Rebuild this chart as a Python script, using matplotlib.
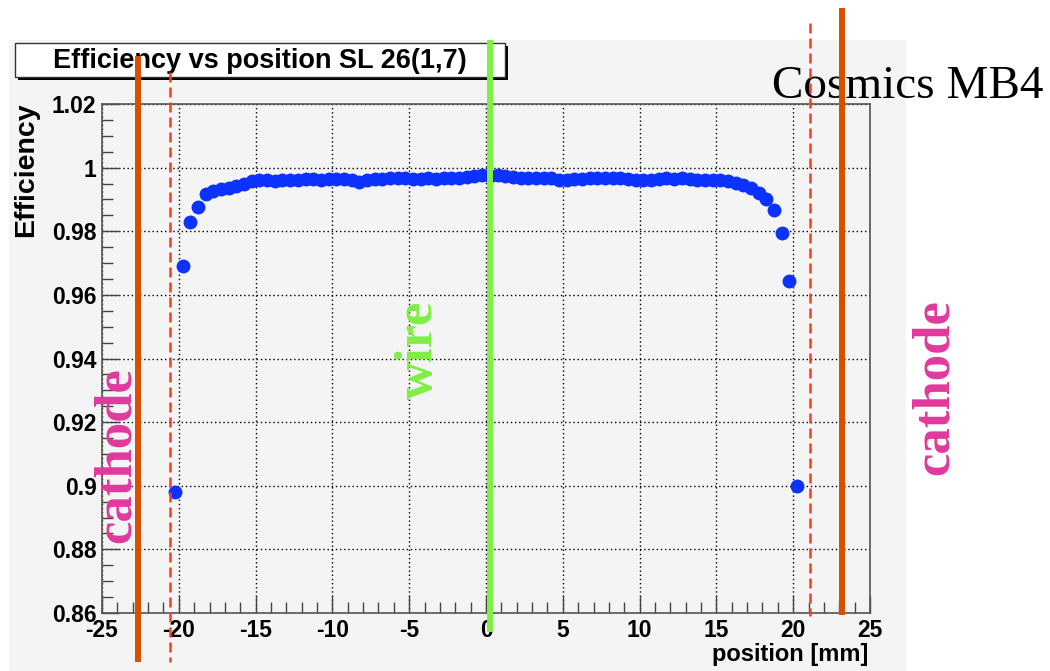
import numpy as np
import matplotlib
matplotlib.use("Agg")
import matplotlib.pyplot as plt
from matplotlib.patches import Rectangle
from matplotlib.lines import Line2D
from matplotlib.transforms import blended_transform_factory

plt.rcParams['font.family'] = ['Liberation Sans', 'DejaVu Sans']
plt.rcParams['axes.unicode_minus'] = False

# bin centres [mm] and measured efficiency
position = [-20.25, -19.75, -19.25, -18.75, -18.25, -17.75, -17.25, -16.75, -16.25, -15.75,
            -15.25, -14.75, -14.25, -13.75, -13.25, -12.75, -12.25, -11.75, -11.25, -10.75,
            -10.25, -9.75, -9.25, -8.75, -8.25, -7.75, -7.25, -6.75, -6.25, -5.75,
            -5.25, -4.75, -4.25, -3.75, -3.25, -2.75, -2.25, -1.75, -1.25, -0.75,
            -0.25, 0.25, 0.75, 1.25, 1.75, 2.25, 2.75, 3.25, 3.75, 4.25,
            4.75, 5.25, 5.75, 6.25, 6.75, 7.25, 7.75, 8.25, 8.75, 9.25,
            9.75, 10.25, 10.75, 11.25, 11.75, 12.25, 12.75, 13.25, 13.75, 14.25,
            14.75, 15.25, 15.75, 16.25, 16.75, 17.25, 17.75, 18.25, 18.75, 19.25,
            19.75, 20.25]
efficiency = [0.898, 0.969, 0.983, 0.9877, 0.9917, 0.9927, 0.9932, 0.9937, 0.9942, 0.9950,
              0.9958, 0.9962, 0.9960, 0.9958, 0.9960, 0.9962, 0.9960, 0.9963, 0.9965, 0.9962,
              0.9965, 0.9965, 0.9963, 0.9962, 0.9955, 0.9962, 0.9963, 0.9965, 0.9966, 0.9968,
              0.9966, 0.9963, 0.9965, 0.9966, 0.9965, 0.9967, 0.9968, 0.9967, 0.9972, 0.9975,
              0.9978, 0.9975, 0.9977, 0.9974, 0.9970, 0.9968, 0.9967, 0.9967, 0.9968, 0.9966,
              0.9962, 0.9960, 0.9963, 0.9965, 0.9966, 0.9967, 0.9966, 0.9967, 0.9966, 0.9965,
              0.9962, 0.9960, 0.9962, 0.9965, 0.9966, 0.9965, 0.9966, 0.9964, 0.9962, 0.9960,
              0.9962, 0.9960, 0.9957, 0.9952, 0.9945, 0.9935, 0.9920, 0.9900, 0.9868, 0.9795,
              0.9645, 0.900]

xticks = [-25, -20, -15, -10, -5, 0, 5, 10, 15, 20, 25]
yticks = [0.86, 0.88, 0.90, 0.92, 0.94, 0.96, 0.98, 1.00, 1.02]
ytick_labels = ["0.86", "0.88", "0.9", "0.92", "0.94", "0.96", "0.98", "1", "1.02"]

cathode_pos = [-22.65, 23.15]
edge_pos = [-20.57, 21.1]
wire_pos = 0.25

W, H = 1050, 671
fig = plt.figure(figsize=(W / 100, H / 100), dpi=100, facecolor='white')


def fx(px):
    return px / W


def fy(py):
    return 1 - py / H


bg = '#f4f4f4'
fig.add_artist(Rectangle((fx(9), 0), fx(906) - fx(9), fy(40), transform=fig.transFigure,
                         facecolor=bg, edgecolor='none', zorder=-10))

ax = fig.add_axes([fx(102), fy(613), fx(870) - fx(102), fy(104) - fy(613)])
ax.set_facecolor(bg)
ax.set_xlim(-25, 25)
ax.set_ylim(0.86, 1.02)
ax.set_xticks(xticks)
ax.set_xticklabels([str(t) for t in xticks])
ax.set_xticks(np.arange(-25, 26, 1), minor=True)
ax.set_yticks(yticks)
ax.set_yticklabels(ytick_labels)
ax.set_yticks(np.arange(0.86, 1.0201, 0.005), minor=True)
ax.tick_params(which='both', direction='in', top=False, right=False, color='#444444')
ax.tick_params(which='major', length=12, width=1, labelsize=16.5, pad=4)
ax.tick_params(which='minor', length=8, width=1)
for lab in ax.get_xticklabels() + ax.get_yticklabels():
    lab.set_fontweight('bold')
for s in ax.spines.values():
    s.set_color('#555555')
    s.set_linewidth(1.2)
ax.grid(True, which='major', color='black', linestyle=(0, (1, 2)), linewidth=1)
ax.set_axisbelow(True)

ax.plot(position, efficiency, 'o', color='#0b32ff', markersize=10, markeredgewidth=0, zorder=3)

# title box with shadow
fig.add_artist(Rectangle((fx(18), fy(80)), fx(508) - fx(18), fy(46) - fy(80), transform=fig.transFigure,
                         facecolor='black', edgecolor='none', zorder=1))
fig.add_artist(Rectangle((fx(15), fy(77)), fx(505) - fx(15), fy(43) - fy(77), transform=fig.transFigure,
                         facecolor='white', edgecolor='#333333', linewidth=1, zorder=1.5))
fig.text(fx(260), fy(61), "Efficiency vs position SL 26(1,7)", ha='center', va='center',
         fontsize=19.5, fontweight='bold', zorder=3)

fig.text(fx(26), fy(102), "Efficiency", rotation=90, ha='center', va='top',
         fontsize=20.5, fontweight='bold')
fig.text(fx(868), fy(661), "position [mm]", ha='right', va='baseline',
         fontsize=17, fontweight='bold')

fig.text(fx(772), fy(98), "Cosmics MB4", ha='left', va='baseline', fontsize=34,
         family=['Liberation Serif', 'DejaVu Serif'], zorder=4)

serif_bold = dict(family=['Liberation Serif', 'DejaVu Serif'], fontweight='bold', fontsize=38,
                  rotation=90, ha='center', va='center', zorder=4)
fig.text(fx(117), fy(455), "cathode", color='#e0399c', **serif_bold)
fig.text(fx(935), fy(387), "cathode", color='#e0399c', **serif_bold)
fig.text(fx(419), fy(350), "wire", color='#80ee44', **serif_bold)

# overlay lines: data x, figure y
tr = blended_transform_factory(ax.transData, fig.transFigure)
fig.add_artist(Line2D([cathode_pos[0]] * 2, [fy(56), fy(662)], transform=tr,
                      color='#d94f00', linewidth=4.3, solid_capstyle='butt', zorder=5))
fig.add_artist(Line2D([cathode_pos[1]] * 2, [fy(8), fy(615)], transform=tr,
                      color='#d94f00', linewidth=4.3, solid_capstyle='butt', zorder=5))
fig.add_artist(Line2D([edge_pos[0]] * 2, [fy(72), fy(662)], transform=tr,
                      color='#ff3b1f', linewidth=1.8, linestyle=(0, (4, 2)), zorder=5))
fig.add_artist(Line2D([edge_pos[1]] * 2, [fy(23), fy(616)], transform=tr,
                      color='#ff3b1f', linewidth=1.8, linestyle=(0, (4, 2)), zorder=5))
fig.add_artist(Line2D([wire_pos] * 2, [fy(40), fy(632)], transform=tr,
                      color='#80ee44', linewidth=4.3, solid_capstyle='butt', zorder=5))

fig.savefig("out.png", dpi=100, facecolor='white')
